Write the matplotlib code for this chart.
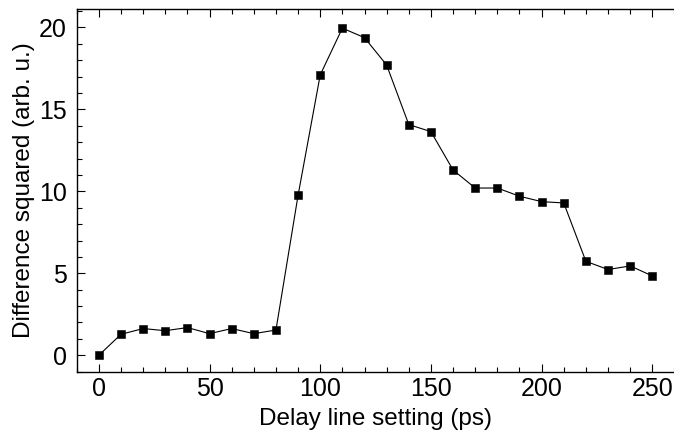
import numpy as np
import matplotlib
matplotlib.use('Agg')
import matplotlib.pyplot as plt
from matplotlib.ticker import MultipleLocator

delay = [0, 10, 20, 30, 40, 50, 60, 70, 80, 90, 100, 110, 120, 130,
         140, 150, 160, 170, 180, 190, 200, 210, 220, 230, 240, 250]
diff_sq = [0.0, 1.28, 1.63, 1.50, 1.69, 1.32, 1.63, 1.32, 1.54, 9.76,
           17.1, 19.95, 19.37, 17.7, 14.07, 13.64, 11.3, 10.2, 10.2, 9.7,
           9.37, 9.29, 5.73, 5.23, 5.45, 4.84]

plt.rcParams['font.family'] = ['Liberation Sans', 'DejaVu Sans']

fig = plt.figure(figsize=(6.74, 4.36), dpi=100)
# axes run past the right edge of the figure, as in the cropped original
ax = fig.add_axes([0.1138, 0.1475, 0.90, 0.8312])

ax.plot(delay, diff_sq, color='black', lw=0.8, marker='s', ms=5.5,
        mfc='black', mec='black', mew=0.4)

ax.set_xlim(-10, 264)
ax.set_ylim(-1.0, 21.1)
ax.xaxis.set_major_locator(MultipleLocator(50))
ax.xaxis.set_minor_locator(MultipleLocator(10))
ax.yaxis.set_major_locator(MultipleLocator(5))
ax.yaxis.set_minor_locator(MultipleLocator(1))

ax.tick_params(which='both', direction='in', top=True, right=False,
               labelsize=18, width=0.8)
ax.tick_params(which='major', length=6)
ax.tick_params(which='minor', length=3.5)
ax.tick_params(axis='x', pad=4)
ax.tick_params(axis='y', pad=7)
for s in ax.spines.values():
    s.set_linewidth(1.0)
ax.spines['right'].set_visible(False)

ax.set_xlabel('Delay line setting (ps)', fontsize=17.5, labelpad=5, x=0.4934)
ax.set_ylabel('Difference squared (arb. u.)', fontsize=17.5, labelpad=3)

fig.savefig('out.png', dpi=100)
